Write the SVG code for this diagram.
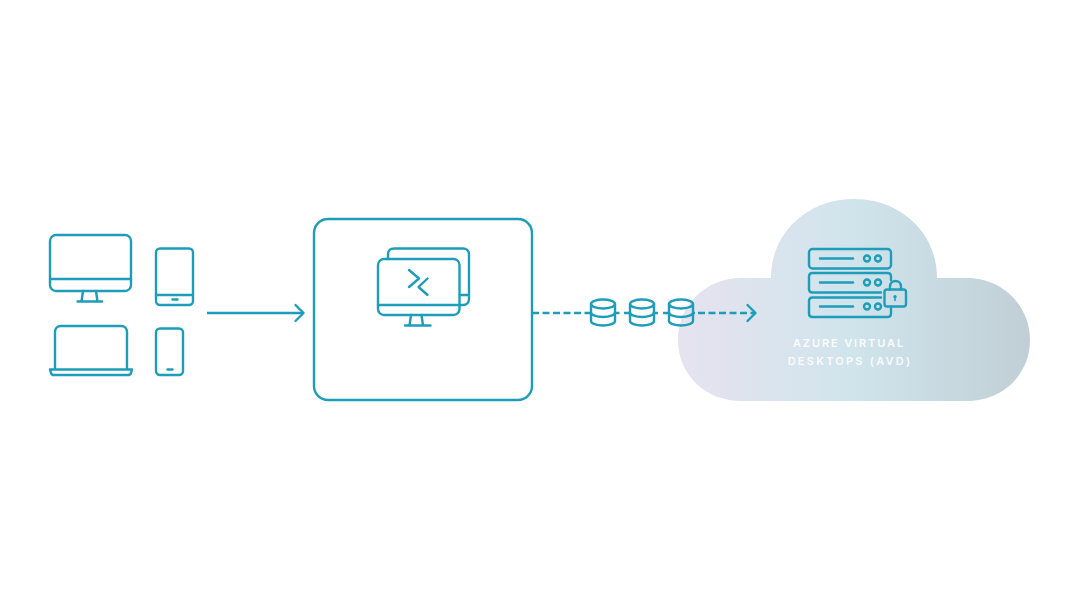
<svg xmlns="http://www.w3.org/2000/svg" width="1080" height="600" viewBox="0 0 1080 600">
  <style>
    .i{fill:none;stroke:#1d9dba;stroke-width:2.400;stroke-linecap:round;stroke-linejoin:round}
    .c{fill:none;stroke:#1d9dba;stroke-width:2.400}
    .d{stroke-dasharray:7 3.500;stroke-linecap:butt}
    .t{font-family:Inter,"Open Sans",sans-serif;font-size:11px;font-weight:600;letter-spacing:1.900px;fill:#fff;fill-opacity:.9;text-anchor:middle}
  </style>
  <defs>
    <linearGradient id="cg" gradientUnits="userSpaceOnUse" x1="678" y1="0" x2="1030" y2="0">
      <stop offset="0" stop-color="#e6e3ef"/>
      <stop offset="0.5" stop-color="#d0e4ec"/>
      <stop offset="1" stop-color="#c0cfd5"/>
    </linearGradient>
    <g id="db" class="i">
      <ellipse cx="0" cy="304" rx="12" ry="4.500"/>
      <path d="M-12 304V321C-12 323.500-6.600 325.500 0 325.500S12 323.500 12 321V304"/>
      <path d="M-12 312.500C-12 315-6.600 317 0 317S12 315 12 312.500"/>
    </g>
  </defs>
  <rect width="1080" height="600" fill="#fff"/>
  <g id="cloud">
    <path fill="url(#cg)" d="M771 278C771 232 808 199 854 199C900 199 937 232 937 278H967C1002 278 1030 305 1030 340C1030 375 1002 401 967 401H741C706 401 678 375 678 340C678 305 706 278 741 278Z"/>
  </g>
  <g id="connectors">
    <path class="c" d="M207 313H303"/>
    <path class="i" d="M295.500 305L303.500 313L295.500 321"/>
    <path class="c d" d="M532 313H590"/>
    <path class="c" d="M616 313H619.500M624 313H629M655 313H658M663 313H668M694 313H695"/>
    <path class="c d" d="M698 313H755"/>
    <path class="i" d="M747.500 305L755.500 313L747.500 321"/>
  </g>
  <g id="desktop" class="i">
    <rect x="50" y="235" width="81" height="56" rx="6"/>
    <path d="M50 279H131M83 291L81.500 301.500M96 291L97.500 301.500M77.500 301.500H102"/>
  </g>
  <g id="tablet" class="i">
    <rect x="156" y="248.500" width="37" height="56.500" rx="4"/>
    <path d="M156 295H193M172.500 299.500H177.500"/>
  </g>
  <g id="laptop" class="i">
    <path d="M55 369V332C55 328.500 57.500 326 61 326H121C124.500 326 127 328.500 127 332V369"/>
    <path d="M50 369.500H132L131 373C130.500 374.500 129.500 375 128 375H54C52.500 375 51.500 374.500 51 373Z"/>
  </g>
  <g id="phone" class="i">
    <rect x="156" y="328.500" width="27" height="46.500" rx="4"/>
    <path d="M167.500 369.500H172.500"/>
  </g>
  <g id="gateway">
    <rect class="c" x="314" y="219" width="218" height="181" rx="14"/>
    <g class="i">
      <path d="M388 259V254C388 250.500 390.500 248.500 394 248.500H463C466.500 248.500 469 251 469 254.500V299C469 302.500 466.500 305 463 305H460M460 295H469"/>
      <rect x="378" y="259" width="81.500" height="56" rx="6"/>
      <path d="M378 305H459.500M411 315L409.500 325.500M421.500 315L423 325.500M405 325.500H430.500"/>
      <path d="M409 270L419 278.500L409 287M427.500 278.500L418.500 287L427.500 295"/>
    </g>
  </g>
  <g id="data">
    <use href="#db" x="603"/>
    <use href="#db" x="642"/>
    <use href="#db" x="681"/>
  </g>
  <g id="avd">
    <g class="i">
      <rect x="809" y="249" width="82" height="19.500" rx="3.500"/>
      <path d="M820 258.500H853"/>
      <circle cx="867" cy="258.500" r="3"/>
      <circle cx="878" cy="258.500" r="3"/>
      <path d="M891 280V276.500C891 274.500 889.500 273 887.500 273H812.500C810.500 273 809 274.500 809 276.500V289C809 291 810.500 292.500 812.500 292.500H881"/>
      <path d="M820 282.500H853"/>
      <circle cx="867" cy="282.500" r="3"/>
      <circle cx="878" cy="282.500" r="3"/>
      <path d="M881 297.500H812.500C810.500 297.500 809 299 809 301V313.500C809 315.500 810.500 317 812.500 317H887.500C889.500 317 891 315.500 891 313.500V307"/>
      <path d="M820 306.500H853"/>
      <circle cx="867" cy="306.500" r="3"/>
      <circle cx="878" cy="306.500" r="3"/>
      <rect x="884.500" y="289.500" width="21.500" height="17" rx="2.500"/>
      <path d="M890 289.500V286.500C890 283 892.500 281 895.500 281S901 283 901 286.500V289.500"/>
    </g>
    <circle cx="895" cy="296.800" r="1.700" fill="#1d9dba"/>
    <path d="M895 297V300.500" stroke="#1d9dba" stroke-width="1.500" stroke-linecap="round"/>
    <text class="t" x="849" y="347">AZURE VIRTUAL</text>
    <text class="t" x="850" y="365" style="letter-spacing:2.250px">DESKTOPS (AVD)</text>
  </g>
</svg>
